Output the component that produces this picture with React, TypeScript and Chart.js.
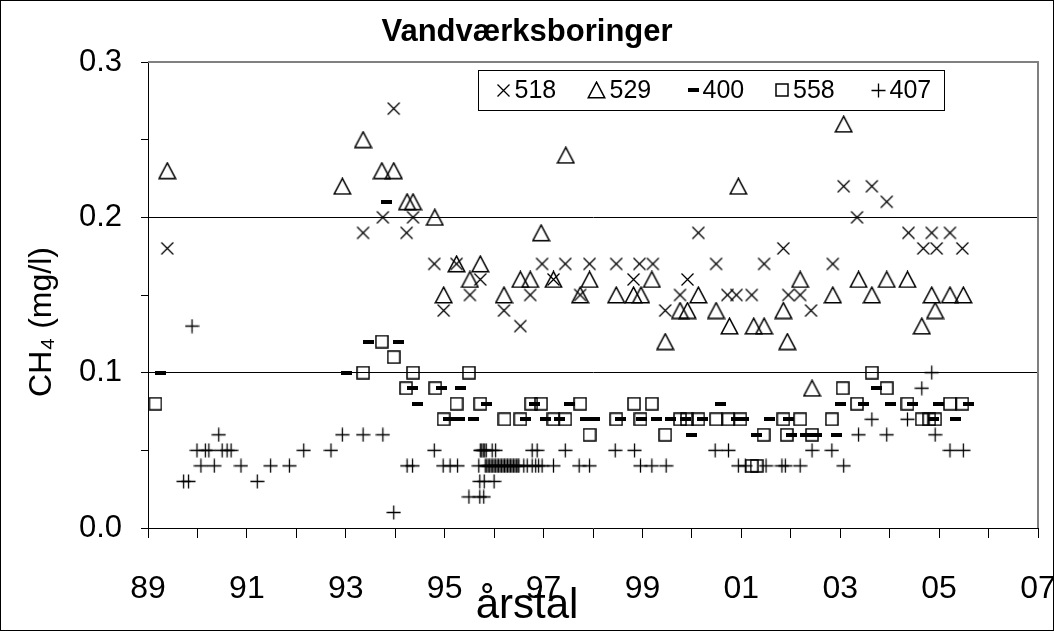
import React, { useEffect, useRef } from 'react';
import { Chart, registerables } from 'chart.js';

Chart.register(...registerables);

const FONT = "'Liberation Sans', Arial, Helvetica, sans-serif";

const chartTitle = 'Vandværksboringer';
const xAxisTitle = 'årstal';
const yAxisTitle = 'CH₄ (mg/l)';
const xTickLabels = ['89', '91', '93', '95', '97', '99', '01', '03', '05', '07'];
const yTickLabels = ['0.0', '0.1', '0.2', '0.3'];
const seriesNames = ['518', '529', '400', '558', '407'];

const s518: [number, number][] = [
  [1989.39, 0.18], [1993.35, 0.19], [1993.75, 0.2], [1993.97, 0.27], [1994.23, 0.19], [1994.36, 0.2],
  [1994.79, 0.17], [1994.98, 0.14], [1995.24, 0.17], [1995.51, 0.15], [1995.72, 0.16], [1996.2, 0.14],
  [1996.53, 0.13], [1996.73, 0.15], [1996.97, 0.17], [1997.2, 0.16], [1997.44, 0.17], [1997.74, 0.15],
  [1997.93, 0.17], [1998.47, 0.17], [1998.82, 0.16], [1998.94, 0.17], [1999.21, 0.17], [1999.46, 0.14],
  [1999.76, 0.15], [1999.91, 0.16], [2000.13, 0.19], [2000.49, 0.17], [2000.72, 0.15], [2000.9, 0.15],
  [2001.21, 0.15], [2001.46, 0.17], [2001.85, 0.18], [2001.95, 0.15], [2002.19, 0.15], [2002.41, 0.14],
  [2002.85, 0.17], [2003.07, 0.22], [2003.34, 0.2], [2003.64, 0.22], [2003.94, 0.21], [2004.38, 0.19],
  [2004.68, 0.18], [2004.85, 0.19], [2004.95, 0.18], [2005.22, 0.19], [2005.47, 0.18],
];

const s529: [number, number][] = [
  [1989.39, 0.23], [1992.93, 0.22], [1993.35, 0.25], [1993.73, 0.23], [1993.97, 0.23], [1994.24, 0.21],
  [1994.36, 0.21], [1994.8, 0.2], [1994.98, 0.15], [1995.24, 0.17], [1995.51, 0.16], [1995.72, 0.17],
  [1996.2, 0.15], [1996.53, 0.16], [1996.73, 0.16], [1996.95, 0.19], [1997.2, 0.16], [1997.45, 0.24],
  [1997.74, 0.15], [1997.93, 0.16], [1998.47, 0.15], [1998.82, 0.15], [1998.97, 0.15], [1999.19, 0.16],
  [1999.46, 0.12], [1999.76, 0.14], [1999.91, 0.14], [2000.13, 0.15], [2000.49, 0.14], [2000.76, 0.13],
  [2000.94, 0.22], [2001.25, 0.13], [2001.46, 0.13], [2001.85, 0.14], [2001.93, 0.12], [2002.19, 0.16],
  [2002.43, 0.09], [2002.85, 0.15], [2003.07, 0.26], [2003.37, 0.16], [2003.64, 0.15], [2003.94, 0.16],
  [2004.36, 0.16], [2004.65, 0.13], [2004.85, 0.15], [2004.92, 0.14], [2005.22, 0.15], [2005.49, 0.15],
];

const s400: [number, number][] = [
  [1989.25, 0.1], [1993.01, 0.1], [1993.45, 0.12], [1993.83, 0.21], [1994.06, 0.12], [1994.34, 0.09],
  [1994.45, 0.08], [1994.93, 0.09], [1995.08, 0.07], [1995.3, 0.07], [1995.33, 0.09], [1995.59, 0.07],
  [1995.84, 0.08], [1996.63, 0.07], [1996.81, 0.08], [1997.04, 0.07], [1997.32, 0.07], [1997.53, 0.08],
  [1997.84, 0.07], [1998.03, 0.07], [1998.55, 0.07], [1998.99, 0.07], [1999.29, 0.07], [1999.56, 0.07],
  [1999.87, 0.07], [2000.0, 0.06], [2000.22, 0.07], [2000.57, 0.08], [2000.9, 0.07], [2001.04, 0.07],
  [2001.31, 0.06], [2001.57, 0.07], [2001.95, 0.07], [2002.02, 0.06], [2002.29, 0.06], [2002.53, 0.06],
  [2002.93, 0.06], [2003.0, 0.08], [2003.47, 0.08], [2003.73, 0.09], [2004.02, 0.08], [2004.47, 0.08],
  [2004.88, 0.07], [2004.99, 0.08], [2005.33, 0.07], [2005.59, 0.08],
];

const s558: [number, number][] = [
  [1989.15, 0.08], [1993.35, 0.1], [1993.73, 0.12], [1993.97, 0.11], [1994.22, 0.09], [1994.36, 0.1],
  [1994.81, 0.09], [1994.98, 0.07], [1995.24, 0.08], [1995.49, 0.1], [1995.72, 0.08], [1996.21, 0.07],
  [1996.53, 0.07], [1996.75, 0.08], [1996.95, 0.08], [1997.2, 0.07], [1997.44, 0.07], [1997.74, 0.08],
  [1997.93, 0.06], [1998.47, 0.07], [1998.83, 0.08], [1998.96, 0.07], [1999.19, 0.08], [1999.46, 0.06],
  [1999.76, 0.07], [1999.9, 0.07], [2000.13, 0.07], [2000.49, 0.07], [2000.74, 0.07], [2000.98, 0.07],
  [2001.21, 0.04], [2001.31, 0.04], [2001.45, 0.06], [2001.85, 0.07], [2001.92, 0.06], [2002.19, 0.07],
  [2002.43, 0.06], [2002.83, 0.07], [2003.05, 0.09], [2003.34, 0.08], [2003.64, 0.1], [2003.94, 0.09],
  [2004.36, 0.08], [2004.65, 0.07], [2004.8, 0.07], [2004.92, 0.07], [2005.22, 0.08], [2005.47, 0.08],
];

const s407: [number, number][] = [
  [1989.72, 0.03], [1989.82, 0.03], [1989.89, 0.13], [1989.99, 0.05], [1990.07, 0.04], [1990.16, 0.05],
  [1990.23, 0.05], [1990.34, 0.04], [1990.43, 0.06], [1990.5, 0.05], [1990.6, 0.05], [1990.68, 0.05],
  [1990.88, 0.04], [1991.21, 0.03], [1991.48, 0.04], [1991.86, 0.04], [1992.15, 0.05], [1992.7, 0.05],
  [1992.93, 0.06], [1993.35, 0.06], [1993.75, 0.06], [1993.97, 0.01], [1994.24, 0.04], [1994.35, 0.04],
  [1994.79, 0.05], [1994.97, 0.04], [1995.11, 0.04], [1995.26, 0.04], [1995.49, 0.02], [1995.69, 0.04],
  [1995.71, 0.02], [1995.71, 0.03], [1995.72, 0.05], [1995.75, 0.05], [1995.78, 0.05], [1995.79, 0.02],
  [1995.8, 0.03], [1995.81, 0.05], [1995.84, 0.05], [1995.96, 0.05], [1996.0, 0.03], [1996.03, 0.05],
  [1995.82, 0.04], [1995.85, 0.04], [1995.88, 0.04], [1995.91, 0.04], [1995.94, 0.04], [1995.97, 0.04],
  [1996.0, 0.04], [1996.03, 0.04], [1996.06, 0.04], [1996.09, 0.04], [1996.12, 0.04], [1996.15, 0.04],
  [1996.18, 0.04], [1996.21, 0.04], [1996.24, 0.04], [1996.27, 0.04], [1996.3, 0.04], [1996.33, 0.04],
  [1996.36, 0.04], [1996.39, 0.04], [1996.42, 0.04], [1996.45, 0.04], [1996.48, 0.04], [1996.5, 0.04],
  [1996.6, 0.04], [1996.67, 0.04], [1996.77, 0.04], [1996.84, 0.04], [1996.9, 0.04], [1996.97, 0.04],
  [1996.77, 0.05], [1996.87, 0.05], [1997.2, 0.04], [1997.44, 0.05], [1997.72, 0.04], [1997.93, 0.04],
  [1998.45, 0.05], [1998.84, 0.05], [1998.96, 0.04], [1999.19, 0.04], [1999.48, 0.04], [2000.47, 0.05],
  [2000.74, 0.05], [2000.94, 0.04], [2001.08, 0.04], [2001.5, 0.04], [2001.82, 0.04], [2001.89, 0.04],
  [2002.19, 0.04], [2002.43, 0.05], [2002.83, 0.05], [2003.07, 0.04], [2003.37, 0.06], [2003.64, 0.07],
  [2003.94, 0.06], [2004.36, 0.07], [2004.65, 0.09], [2004.85, 0.1], [2004.92, 0.06], [2005.22, 0.05],
  [2005.49, 0.05],
];

const seriesData = [s518, s529, s400, s558, s407];
const markerKinds = ['x', 'tri', 'dash', 'sq', 'plus'];

function makeMarker(kind: string): HTMLCanvasElement {
  const c = document.createElement('canvas');
  const dims: Record<string, [number, number]> = {
    x: [15, 15], tri: [19, 18], dash: [11, 4], sq: [14, 14], plus: [15, 15],
  };
  const [w, h] = dims[kind];
  c.width = w;
  c.height = h;
  const ctx = c.getContext('2d')!;
  ctx.strokeStyle = '#000';
  ctx.fillStyle = '#000';
  ctx.lineWidth = 1.3;
  ctx.beginPath();
  if (kind === 'x') {
    ctx.moveTo(1.5, 1.5); ctx.lineTo(13.5, 13.5);
    ctx.moveTo(13.5, 1.5); ctx.lineTo(1.5, 13.5);
    ctx.stroke();
  } else if (kind === 'tri') {
    ctx.lineWidth = 1.5;
    ctx.moveTo(9.5, 1.2); ctx.lineTo(17.8, 16.8); ctx.lineTo(1.2, 16.8); ctx.closePath();
    ctx.stroke();
  } else if (kind === 'dash') {
    ctx.fillRect(0, 0, w, h);
  } else if (kind === 'sq') {
    ctx.lineWidth = 1.5;
    ctx.strokeRect(1, 1, 12, 12);
  } else {
    ctx.moveTo(7.5, 0.5); ctx.lineTo(7.5, 14.5);
    ctx.moveTo(0.5, 7.5); ctx.lineTo(14.5, 7.5);
    ctx.stroke();
  }
  return c;
}

const legendCenters = [503, 596, 693, 782, 878];

const decor = {
  id: 'decor',
  beforeDatasetsDraw(chart: any) {
    const { ctx, chartArea: ca } = chart;
    ctx.save();
    ctx.strokeStyle = '#808080';
    ctx.lineWidth = 2;
    ctx.beginPath();
    ctx.moveTo(ca.left, ca.top);
    ctx.lineTo(ca.right, ca.top);
    ctx.lineTo(ca.right, ca.bottom);
    ctx.stroke();
    ctx.restore();
  },
  afterDraw(chart: any) {
    const { ctx, width, height } = chart;
    ctx.save();
    ctx.strokeStyle = '#000';
    ctx.lineWidth = 1;
    ctx.strokeRect(0.5, 0.5, width - 1, height - 1);
    ctx.fillStyle = '#000';
    ctx.textAlign = 'center';
    ctx.textBaseline = 'middle';
    ctx.font = `bold 31px ${FONT}`;
    ctx.fillText(chartTitle, 527, 32);
    ctx.font = `42px ${FONT}`;
    ctx.fillText(xAxisTitle, 527, 606);
    ctx.save();
    ctx.translate(42, 322);
    ctx.rotate(-Math.PI / 2);
    ctx.font = `32px ${FONT}`;
    ctx.fillText(yAxisTitle, 0, 0);
    ctx.restore();
    ctx.fillStyle = '#fff';
    ctx.fillRect(478, 70, 466, 40);
    ctx.strokeStyle = '#000';
    ctx.lineWidth = 1;
    ctx.strokeRect(478.5, 70.5, 466, 40);
    ctx.fillStyle = '#000';
    ctx.font = `25px ${FONT}`;
    ctx.textAlign = 'left';
    chart.data.datasets.forEach((ds: any, i: number) => {
      const img = ds.pointStyle as HTMLCanvasElement;
      const cx = legendCenters[i];
      ctx.drawImage(img, Math.round(cx - img.width / 2), Math.round(90 - img.height / 2));
      ctx.fillText(ds.label, cx + img.width / 2 + 4, 91);
    });
    ctx.restore();
  },
};

export default function App() {
  const ref = useRef<HTMLCanvasElement | null>(null);
  useEffect(() => {
    document.body.style.margin = '0';
    const canvas = ref.current!;
    const datasets = seriesData.map((arr, i) => ({
      label: seriesNames[i],
      data: arr.map(([x, y]) => ({ x, y })),
      pointStyle: makeMarker(markerKinds[i]),
      pointRadius: 8,
      pointHoverRadius: 8,
      showLine: false,
    }));
    const chart = new Chart(canvas, {
      type: 'scatter',
      data: { datasets },
      options: {
        responsive: false,
        animation: false,
        events: [],
        layout: { padding: { top: 62, right: 16, left: 0, bottom: 0 } },
        plugins: { legend: { display: false }, title: { display: false }, tooltip: { enabled: false } },
        scales: {
          x: {
            type: 'linear',
            min: 1989,
            max: 2007,
            afterFit: (s: any) => {
              s.height = 103;
              s.paddingLeft = 0;
              s.paddingRight = 0;
            },
            ticks: {
              stepSize: 1,
              autoSkip: false,
              maxRotation: 0,
              color: '#000',
              padding: 32,
              font: { size: 32, family: FONT },
              callback: (v: any) => {
                const lbl = String(Math.round(Number(v)) % 100).padStart(2, '0');
                return xTickLabels.includes(lbl) ? lbl : '';
              },
            },
            grid: { drawOnChartArea: false, tickLength: 10, color: '#000', tickColor: '#000' },
            border: { color: '#000', width: 1 },
          },
          y: {
            type: 'linear',
            min: 0,
            max: 0.3,
            afterFit: (s: any) => {
              s.width = 148;
              s.paddingTop = 0;
              s.paddingBottom = 0;
            },
            ticks: {
              stepSize: 0.05,
              color: '#000',
              padding: 19,
              font: { size: 31, family: FONT },
              callback: (v: any) => {
                const r = Math.round(Number(v) * 100) / 100;
                const lbl = yTickLabels.find((l) => Math.abs(parseFloat(l) - r) < 1e-9);
                return lbl ?? '';
              },
            },
            grid: {
              color: (c: any) => {
                const v = c.tick ? c.tick.value : -1;
                return Math.abs(v - 0.1) < 1e-6 || Math.abs(v - 0.2) < 1e-6 ? '#000' : 'rgba(0,0,0,0)';
              },
              tickColor: '#000',
              tickLength: 7,
            },
            border: { color: '#000', width: 1 },
          },
        },
      },
      plugins: [decor],
    } as any);
    return () => chart.destroy();
  }, []);
  return (
    <canvas ref={ref} width={1054} height={631} style={{ display: 'block', width: 1054, height: 631 }} />
  );
}
